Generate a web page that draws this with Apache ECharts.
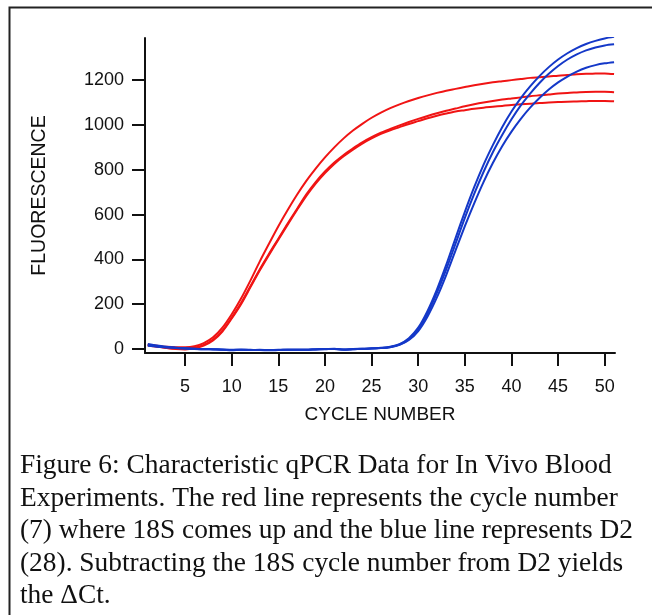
<!DOCTYPE html>
<html>
<head>
<meta charset="utf-8">
<script src="https://cdn.jsdelivr.net/npm/echarts@6/dist/echarts.min.js"></script>
<style>
  html, body { margin: 0; padding: 0; background: #fff; }
  #chart { width: 652px; height: 615px; }
</style>
</head>
<body>
<div id="chart"></div>
<script>
// cycle number (x) for every reading
const cycles = [1, 2, 3, 4, 5, 6, 7, 8, 9, 10, 11, 12, 13, 14, 15, 16, 17, 18, 19, 20,
  21, 22, 23, 24, 25, 26, 27, 28, 29, 30, 31, 32, 33, 34, 35, 36, 37, 38, 39, 40,
  41, 42, 43, 44, 45, 46, 47, 48, 49, 50, 51];

// 18S wells (red)
const red1 = [18, 14, 10, 8, 8, 12, 26, 52, 95, 155, 225, 305, 390, 470, 548, 620, 688, 750, 805, 855,
  900, 940, 975, 1005, 1032, 1055, 1075, 1092, 1107, 1120, 1132, 1143, 1153, 1161, 1169, 1177, 1184, 1190, 1195, 1200,
  1205, 1210, 1213, 1216, 1220, 1223, 1226, 1228, 1229, 1230, 1227];
const red2 = [15, 10, 5, 2, 2, 6, 18, 42, 82, 140, 205, 280, 355, 425, 492, 560, 625, 690, 745, 792,
  832, 866, 895, 922, 945, 965, 982, 998, 1013, 1027, 1040, 1052, 1063, 1073, 1083, 1092, 1100, 1107, 1113, 1118,
  1123, 1128, 1132, 1136, 1140, 1143, 1145, 1147, 1148, 1148, 1146];
const red3 = [20, 12, 4, 0, -2, 3, 15, 38, 78, 136, 200, 275, 350, 420, 488, 555, 620, 683, 738, 785,
  826, 860, 890, 917, 940, 960, 976, 990, 1004, 1017, 1030, 1041, 1051, 1060, 1066, 1072, 1077, 1081, 1085, 1089,
  1092, 1095, 1098, 1100, 1102, 1104, 1105, 1106, 1107, 1107, 1106];

// D2 wells (blue)
const blue1 = [18, 12, 8, 5, 3, 1, 0, -1, -2, -5, -3, -4, -5, -5, -4, -4, -3, -4, -2, 0,
  0, -2, 0, 1, 2, 5, 10, 22, 48, 95, 170, 265, 375, 495, 612, 722, 822, 910, 990, 1060,
  1120, 1172, 1218, 1258, 1292, 1320, 1343, 1361, 1375, 1386, 1393];
const blue2 = [22, 15, 10, 6, 3, 1, -1, -2, -3, -6, -4, -5, -5, -6, -5, -4, -4, -4, -2, -1,
  1, -3, -1, 0, 3, 4, 9, 20, 44, 88, 158, 250, 355, 470, 585, 692, 790, 878, 955, 1025,
  1087, 1140, 1187, 1228, 1263, 1292, 1315, 1333, 1346, 1355, 1360];
const blue3 = [14, 10, 7, 4, 2, 0, -1, -1, -3, -4, -3, -5, -4, -5, -5, -3, -4, -3, -1, 0,
  0, -2, -1, 1, 2, 4, 8, 18, 40, 80, 145, 230, 330, 440, 548, 650, 745, 830, 905, 970,
  1027, 1077, 1120, 1158, 1190, 1216, 1238, 1255, 1267, 1275, 1280];

// tick labels
const xTicks = [5, 10, 15, 20, 25, 30, 35, 40, 45, 50];
const yTicks = [0, 200, 400, 600, 800, 1000, 1200];

const caption = [
  "Figure 6: Characteristic qPCR Data for In Vivo Blood",
  "Experiments. The red line represents the cycle number",
  "(7) where 18S comes up and the blue line represents D2",
  "(28). Subtracting the 18S cycle number from D2 yields",
  "the \u0394Ct."
];

function pairs(values) {
  return cycles.map((c, i) => [c, values[i]]);
}

function curve(values, color) {
  return {
    type: "line",
    data: pairs(values),
    showSymbol: false,
    smooth: 0.3,
    lineStyle: { color: color, width: 2 },
    z: 3,
  };
}

let myChart = echarts.init(document.getElementById("chart"), null, { renderer: "canvas" });
let axisFont = { fontFamily: "Liberation Sans", fontSize: 18, color: "#111" };

let option = {
  animation: false,
  backgroundColor: "#fff",
  grid: { left: 145, top: 38, right: 37, bottom: 262, containLabel: false },
  xAxis: {
    type: "value",
    min: 0.7,
    max: 51.1,
    name: "CYCLE NUMBER",
    nameLocation: "middle",
    nameGap: 52,
    nameTextStyle: { fontFamily: "Liberation Sans", fontSize: 19, color: "#111" },
    axisLine: { onZero: false, lineStyle: { color: "#111", width: 2 } },
    axisTick: { show: true, length: 13, customValues: xTicks, lineStyle: { color: "#111", width: 2 } },
    axisLabel: Object.assign({ margin: 25, customValues: xTicks }, axisFont),
    splitLine: { show: false },
  },
  yAxis: {
    type: "value",
    min: -18,
    max: 1388,
    name: "FLUORESCENCE",
    nameLocation: "middle",
    nameRotate: 90,
    nameGap: 95,
    nameTextStyle: { fontFamily: "Liberation Sans", fontSize: 19.5, color: "#111" },
    axisLine: { onZero: false, lineStyle: { color: "#111", width: 2 } },
    axisTick: { show: true, length: 13, customValues: yTicks, lineStyle: { color: "#111", width: 2 } },
    axisLabel: Object.assign({
      margin: 21,
      customValues: yTicks,
      formatter: function (v) { return String(v); },
    }, axisFont),
    splitLine: { show: false },
  },
  series: [
    curve(red1, "#f01414"),
    curve(red2, "#f01414"),
    curve(red3, "#f01414"),
    curve(blue1, "#1438c8"),
    curve(blue2, "#1438c8"),
    curve(blue3, "#1438c8"),
  ],
  graphic: {
    elements: [
      {
        // frame round the figure (only top and left edges are inside the picture)
        type: "rect",
        left: 7,
        top: 5,
        shape: { width: 700, height: 700 },
        style: { fill: "none", stroke: "#222", lineWidth: 2 },
        silent: true,
      },
      {
        type: "text",
        left: 20,
        top: 450,
        style: {
          text: caption.join("\n"),
          fontFamily: "Liberation Serif",
          fontSize: 27.4,
          lineHeight: 32.5,
          fill: "#111",
        },
      },
    ],
  },
};
myChart.setOption(option);
</script>
</body>
</html>
